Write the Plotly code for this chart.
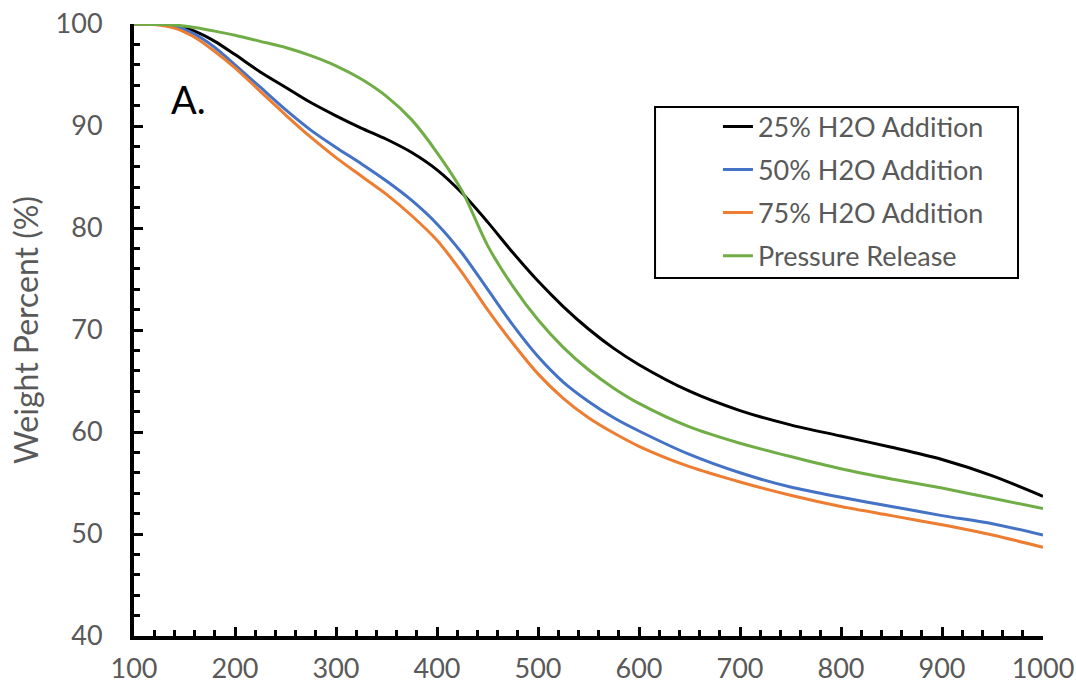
import plotly.graph_objects as go

# Temperature grid (°C) and weight-percent readings for each run
temperature = [100, 120, 140, 160, 180, 200, 225, 250, 275, 300, 325, 350, 375, 400, 425,
               450, 475, 500, 525, 550, 575, 600, 650, 700, 750, 800, 850, 900, 950, 1000]

h2o_25 = [100.0, 100.0, 99.9, 99.3, 98.3, 97.0, 95.3, 93.8, 92.3, 91.0, 89.8, 88.7, 87.4, 85.7, 83.4,
          80.6, 77.6, 74.8, 72.3, 70.1, 68.2, 66.6, 64.0, 62.1, 60.7, 59.6, 58.5, 57.3, 55.7, 53.7]

h2o_50 = [100.0, 100.0, 99.8, 99.0, 97.7, 96.0, 93.8, 91.6, 89.6, 87.9, 86.3, 84.6, 82.7, 80.4, 77.5,
          74.0, 70.5, 67.4, 64.9, 63.0, 61.4, 60.1, 57.8, 56.0, 54.6, 53.6, 52.7, 51.8, 51.0, 49.9]

h2o_75 = [100.0, 99.95, 99.6, 98.7, 97.3, 95.7, 93.4, 91.1, 88.9, 86.9, 85.1, 83.3, 81.2, 78.8, 75.6,
          72.0, 68.7, 65.7, 63.3, 61.4, 59.9, 58.6, 56.6, 55.1, 53.8, 52.7, 51.8, 50.9, 49.9, 48.7]

pressure_release = [100.0, 99.95, 99.9, 99.65, 99.3, 98.9, 98.3, 97.7, 96.9, 95.9, 94.6, 92.9, 90.6, 87.4, 83.6,
                    78.3, 74.3, 71.0, 68.3, 66.1, 64.3, 62.8, 60.5, 58.9, 57.6, 56.4, 55.4, 54.5, 53.5, 52.5]

series_names = ["25% H2O Addition", "50% H2O Addition", "75% H2O Addition", "Pressure Release"]
series_values = [h2o_25, h2o_50, h2o_75, pressure_release]
series_colors = ["#000000", "#4472C4", "#ED7D31", "#70AD47"]

FONT = "Lato"
GREY = "#595959"

fig = go.Figure()
for name, values, color in zip(series_names, series_values, series_colors):
    fig.add_trace(go.Scatter(
        x=temperature, y=values, name=name, mode="lines",
        line=dict(color=color, width=3, shape="spline", smoothing=0.8),
        legendgroup=name,
    ))

axis_common = dict(
    showline=True, linecolor="black", linewidth=4,
    ticks="inside", ticklen=9, tickwidth=3, tickcolor="black",
    showgrid=False, zeroline=False, automargin=False,
    tickfont=dict(family=FONT, size=27, color=GREY),
)

fig.update_xaxes(
    range=[100, 1000], dtick=100, tick0=100,
    minor=dict(dtick=20, ticks="inside", ticklen=6, tickwidth=3, tickcolor="black"),
    ticklabelstandoff=6,
    **axis_common,
)
fig.update_yaxes(
    range=[40, 100], dtick=10, tick0=40,
    minor=dict(dtick=2, ticks="inside", ticklen=6, tickwidth=3, tickcolor="black"),
    ticklabelstandoff=22,
    title=dict(text="Weight Percent (%)", font=dict(family=FONT, size=32, color=GREY), standoff=8),
    **axis_common,
)

# Frame around the legend
fig.add_shape(type="rect", xref="paper", yref="paper",
              x0=0.5732, x1=0.9725, y0=0.585, y1=0.8644,
              line=dict(color="black", width=2), fillcolor="rgba(0,0,0,0)", layer="above")

fig.add_annotation(text="A.", xref="x", yref="y", x=135, y=92.6,
                   xanchor="left", yanchor="middle", showarrow=False,
                   font=dict(family=FONT, size=38, color="black"))

fig.update_layout(
    width=1076, height=688, autosize=False,
    margin=dict(l=134, r=33, t=24, b=52, autoexpand=False),
    paper_bgcolor="white", plot_bgcolor="white",
    showlegend=True,
    legend=dict(
        x=0.6424, y=0.872, xanchor="left", yanchor="top",
        bgcolor="rgba(0,0,0,0)", borderwidth=0,
        font=dict(family=FONT, size=27, color=GREY),
        traceorder="grouped", tracegroupgap=5,
    ),
    font=dict(family=FONT),
)

fig.write_html("out.html")
